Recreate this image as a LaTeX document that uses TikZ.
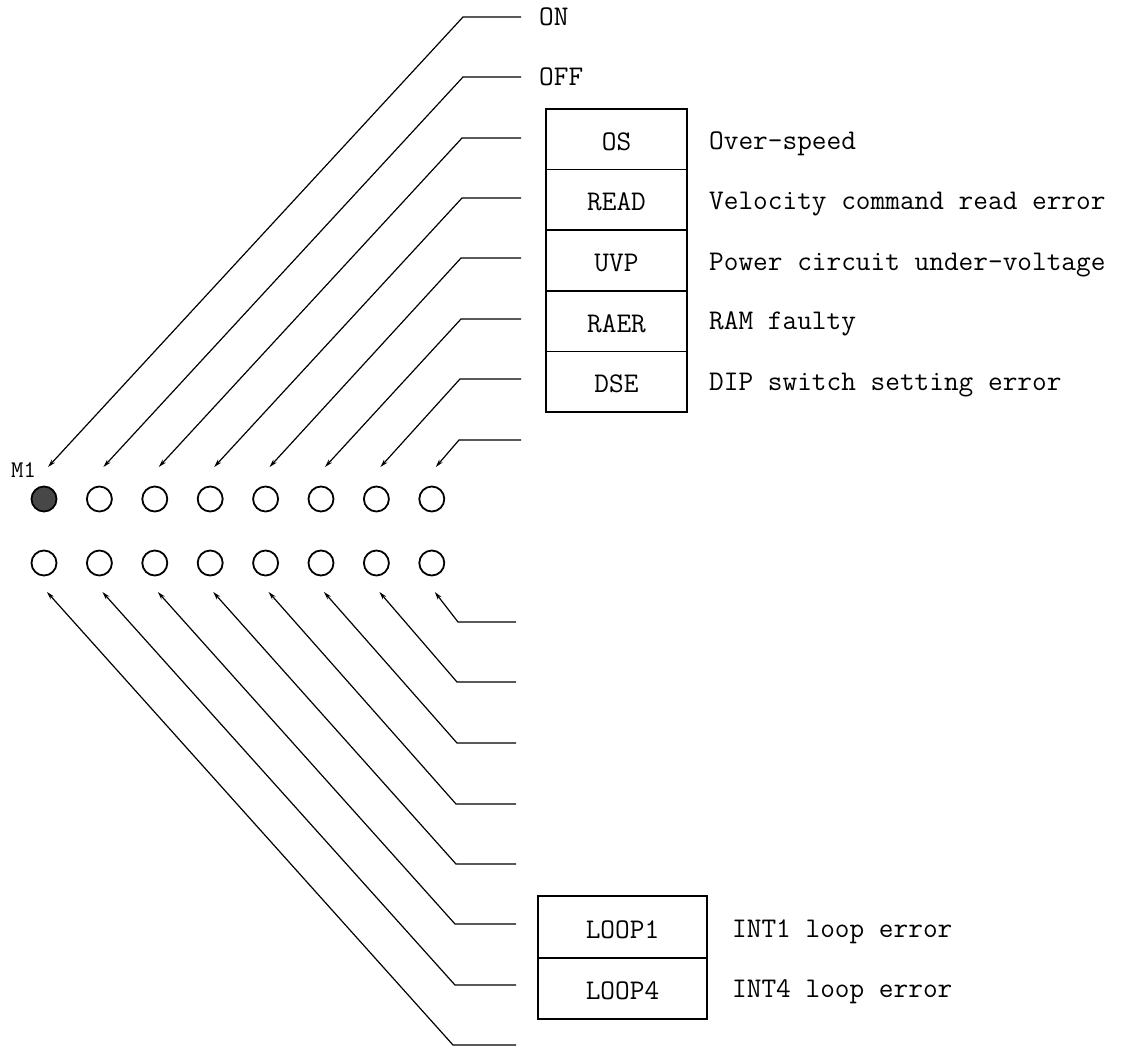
\documentclass[tikz,border=0pt]{standalone}
\usepackage{fontspec}
\usetikzlibrary{arrows.meta}
\begin{document}
\begin{tikzpicture}[x=1pt,y=-1pt,
  txt/.style={font=\ttfamily\fontsize{28.5}{28.5}\selectfont, inner sep=0pt},
  small/.style={font=\ttfamily\fontsize{24}{24}\selectfont, inner sep=0pt},
  led/.style={circle, draw, line width=1.8pt, minimum size=25pt, inner sep=0pt},
  ledon/.style={led, fill=black!72},
  lead/.style={line width=1.2pt, -{Stealth[length=8pt,width=4.5pt]}},
  cell/.style={draw, line width=1.8pt, minimum width=141pt, minimum height=60.6pt,
               inner sep=0pt, font=\ttfamily\fontsize{28.5}{28.5}\selectfont,
               text height=22pt, text depth=0pt},
  cellb/.style={cell, minimum width=169pt, minimum height=61.5pt}]
\useasboundingbox (0,0) rectangle (1129,1051);
\fill[white] (0,0) rectangle (1129,1051);

% LEDs
\node[ledon] (t1) at (44,499) {};
\foreach \i/\x in {2/99.4,3/154.8,4/210.2,5/265.6,6/321,7/376.4,8/431.8}
  \node[led] (t\i) at (\x,499) {};
\foreach \i/\x in {1/44,2/99.4,3/154.8,4/210.2,5/265.6,6/321,7/376.4,8/431.8}
  \node[led] (b\i) at (\x,563) {};
\node[small, anchor=base west] (m1) at (11,477) {M1};

% top leaders
\foreach \i/\y/\cx in {1/17/463,2/77/463,3/138/462,4/198/462,5/258/461,6/319/461,7/379/460,8/440/459} {
  \coordinate (ts\i) at (521,\y);
  \coordinate (tc\i) at (\cx,\y);
  \coordinate (tt\i) at ([shift={(4,-32)}]t\i.center);
  \draw[lead] (ts\i) -- (tc\i) -- (tt\i);
}
% bottom leaders
\foreach \i/\y/\cx in {8/622/458,7/682/457,6/743/457,5/804/456,4/864/456,3/924/455,2/985/455,1/1045/453} {
  \coordinate (bs\i) at (516,\y);
  \coordinate (bc\i) at (\cx,\y);
  \coordinate (bt\i) at ([shift={(3,29)}]b\i.center);
  \draw[lead] (bs\i) -- (bc\i) -- (bt\i);
}

% top labels
\node[txt, anchor=base west] (on) at (539,26) {ON};
\node[txt, anchor=base west] (off) at (539,86) {OFF};

% top box
\node[cell] (os)   at (616.5,139.3) {OS};
\node[cell] (read) at (616.5,199.9) {READ};
\node[cell] (uvp)  at (616.5,260.5) {UVP};
\node[cell] (raer) at (616.5,321.1) {RAER};
\node[cell] (dse)  at (616.5,381.7) {DSE};

\node[txt, anchor=base west] (d1) at (709,150) {Over-speed};
\node[txt, anchor=base west] (d2) at (709,210) {Velocity command read error};
\node[txt, anchor=base west] (d3) at (709,270) {Power circuit under-voltage};
\node[txt, anchor=base west] (d4) at (709,329) {RAM faulty};
\node[txt, anchor=base west] (d5) at (709,390) {DIP switch setting error};

% bottom box
\node[cellb] (loop1) at (622.5,927) {LOOP1};
\node[cellb] (loop4) at (622.5,988.5) {LOOP4};
\node[txt, anchor=base west] (e1) at (732,937) {INT1 loop error};
\node[txt, anchor=base west] (e2) at (732,997) {INT4 loop error};
\end{tikzpicture}
\end{document}
